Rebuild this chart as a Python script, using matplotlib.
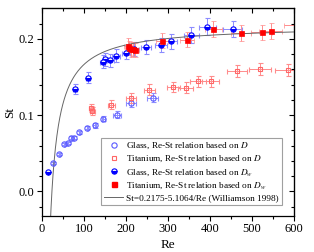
import matplotlib
matplotlib.use("Agg")
import matplotlib.pyplot as plt
import numpy as np

plt.rcParams['font.family'] = ['Liberation Serif', 'DejaVu Serif']
plt.rcParams['mathtext.fontset'] = 'stix'

# Glass, Re-St based on D (open blue circles)
glass_d_re = [27, 41, 53, 61, 70, 75.5, 89, 108, 125.5, 146, 178, 212, 264]
glass_d_st = [0.0374, 0.0492, 0.0619, 0.0634, 0.070, 0.070, 0.0777, 0.0836, 0.0864, 0.0954, 0.1007, 0.116, 0.123]
glass_d_xerr = [0.5, 0.8, 1, 1, 1.5, 1.5, 2, 2, 3, 3, 9, 11, 13]
glass_d_yerr = [0.001, 0.001, 0.001, 0.001, 0.002, 0.002, 0.002, 0.002, 0.003, 0.003, 0.005, 0.006, 0.006]

# Titanium, Re-St based on D (open red squares)
ti_d_re = [117, 120, 165, 212, 255, 313, 342, 372, 402, 465, 519, 585]
ti_d_st = [0.1096, 0.105, 0.1135, 0.1224, 0.1335, 0.1369, 0.136, 0.1444, 0.1441, 0.1575, 0.160, 0.1588]
ti_d_xerr = [6, 6, 8, 11, 13, 16, 17, 19, 20, 24, 26, 29]
ti_d_yerr = [0.0055, 0.0053, 0.0057, 0.0061, 0.0067, 0.0068, 0.0068, 0.0072, 0.0072, 0.0079, 0.008, 0.0079]

# Glass, Re-St based on D_w (half filled blue circles)
glass_w_re = [14.3, 78.6, 110, 144, 151, 163, 176, 200, 219, 247, 283, 306, 356, 394, 454]
glass_w_st = [0.0253, 0.134, 0.149, 0.170, 0.173, 0.172, 0.178, 0.182, 0.187, 0.189, 0.192, 0.197, 0.205, 0.216, 0.213]
glass_w_xerr = [0, 4, 5, 7, 7, 8, 9, 10, 11, 12, 14, 15, 18, 20, 23]
glass_w_yerr = [0, 0.0067, 0.0075, 0.0085, 0.0087, 0.0086, 0.0089, 0.0091, 0.0094, 0.0095, 0.0096, 0.0099, 0.0103, 0.0108, 0.0107]

# Titanium, Re-St based on D_w (filled red squares)
ti_w_re = [205, 208, 212, 217, 221, 286, 345, 408, 474, 523, 545, 606]
ti_w_st = [0.191, 0.188, 0.186, 0.187, 0.185, 0.1975, 0.199, 0.2126, 0.2073, 0.2083, 0.2097, 0.218]
ti_w_xerr = [10, 10, 11, 11, 11, 14, 17, 20, 24, 26, 27, 30]
ti_w_yerr = [0.0095, 0.0094, 0.0093, 0.0094, 0.0093, 0.0099, 0.010, 0.0106, 0.0104, 0.0104, 0.0105, 0.0109]

# Williamson 1998 fit
fit_a = 0.2175
fit_b = 5.1064

blue_light = (0.55, 0.55, 1.0)
red_light = (1.0, 0.55, 0.55)

fig = plt.figure(figsize=(3.14, 2.52), dpi=100)
ax = fig.add_axes([0.134, 0.144, 0.802, 0.823])

ebkw = dict(ls='none', elinewidth=0.7, capsize=1.8, capthick=0.7)

ax.errorbar(glass_d_re, glass_d_st, xerr=glass_d_xerr, yerr=glass_d_yerr, ecolor=blue_light,
            marker='o', ms=3.8, mfc='none', mec=(0.35, 0.35, 1.0), mew=0.8, **ebkw)
ax.errorbar(ti_d_re, ti_d_st, xerr=ti_d_xerr, yerr=ti_d_yerr, ecolor=red_light,
            marker='s', ms=3.4, mfc='none', mec=(1.0, 0.4, 0.4), mew=0.8, **ebkw)
ax.errorbar(glass_w_re, glass_w_st, xerr=glass_w_xerr, yerr=glass_w_yerr, ecolor=blue_light,
            marker='o', ms=3.8, fillstyle='bottom', mfc='blue', mfcalt='white', mec='blue', mew=0.8, **ebkw)
ax.errorbar(ti_w_re, ti_w_st, xerr=ti_w_xerr, yerr=ti_w_yerr, ecolor=red_light,
            marker='s', ms=3.6, mfc='red', mec='red', mew=0.5, **ebkw)

re_fit = np.linspace(19, 600, 500)
ax.plot(re_fit, fit_a - fit_b / re_fit, color='#666666', lw=0.7)

# legend handles (markers only)
h1, = ax.plot([], [], ls='none', marker='o', ms=3.8, mfc='none', mec=(0.35, 0.35, 1.0), mew=0.8)
h2, = ax.plot([], [], ls='none', marker='s', ms=3.4, mfc='none', mec=(1.0, 0.4, 0.4), mew=0.8)
h3, = ax.plot([], [], ls='none', marker='o', ms=3.8, fillstyle='bottom', mfc='blue', mfcalt='white', mec='blue', mew=0.8)
h4, = ax.plot([], [], ls='none', marker='s', ms=3.6, mfc='red', mec='red')
h5, = ax.plot([], [], color='#666666', lw=0.7)
labels = ['Glass, Re-St relation based on $D$',
          'Titanium, Re-St relation based on $D$',
          'Glass, Re-St relation based on $D_w$',
          'Titanium, Re-St relation based on $D_w$',
          'St=0.2175-5.1064/Re (Williamson 1998)']
leg = ax.legend([h1, h2, h3, h4, h5], labels, loc='lower right', bbox_to_anchor=(0.97, 0.03),
                fontsize=6.7, frameon=True, fancybox=False, edgecolor='#888888',
                labelspacing=0.3, handlelength=2.1, handletextpad=0.3, borderpad=0.3)
leg.get_frame().set_linewidth(0.8)

ax.set_xlim(0, 600)
ax.set_ylim(-0.032, 0.24)
ax.set_xticks([0, 100, 200, 300, 400, 500, 600])
ax.set_xticks(np.arange(50, 600, 100), minor=True)
ax.set_yticks([0.0, 0.1, 0.2])
ax.set_yticklabels(['0.0', '0.1', '0.2'])
ax.set_yticks([-0.02, 0.02, 0.04, 0.06, 0.08, 0.12, 0.14, 0.16, 0.18, 0.22], minor=True)
ax.tick_params(which='both', direction='out', labelsize=9, width=0.8, pad=2)
ax.tick_params(which='major', length=3.5)
ax.tick_params(which='minor', length=2)
for s in ax.spines.values():
    s.set_linewidth(0.9)

# mirrored inward ticks on top and right
top = ax.secondary_xaxis('top')
top.set_xticks([0, 100, 200, 300, 400, 500, 600])
top.set_xticks(np.arange(50, 600, 100), minor=True)
top.tick_params(which='both', direction='in', labeltop=False, width=0.8)
top.tick_params(which='major', length=3.5)
top.tick_params(which='minor', length=2)
right = ax.secondary_yaxis('right')
right.set_yticks([0.0, 0.1, 0.2])
right.set_yticks([-0.02, 0.02, 0.04, 0.06, 0.08, 0.12, 0.14, 0.16, 0.18, 0.22], minor=True)
right.tick_params(which='both', direction='in', labelright=False, width=0.8)
right.tick_params(which='major', length=3.5)
right.tick_params(which='minor', length=2)

ax.set_xlabel('Re', fontsize=9.5)
ax.set_ylabel('St', fontsize=9.5)
ax.xaxis.set_label_coords(0.5, -0.11)
ax.yaxis.set_label_coords(-0.105, 0.5)

fig.savefig('out.png', dpi=100)
